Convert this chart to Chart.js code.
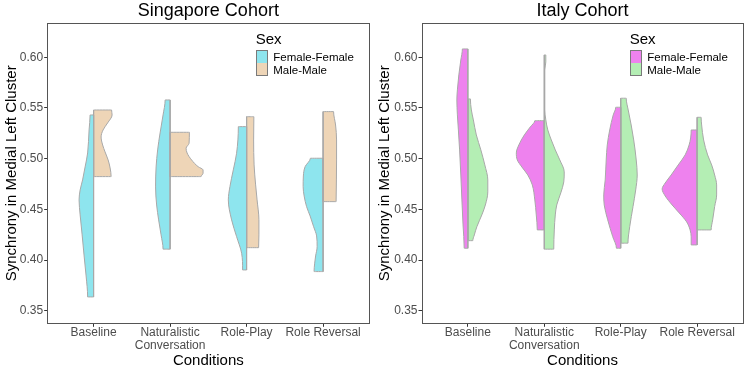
<!DOCTYPE html>
<html>
<head>
<meta charset="utf-8">
<script src="https://cdn.jsdelivr.net/npm/chart.js@4.4.1/dist/chart.umd.min.js"></script>
<style>
html,body{margin:0;padding:0;background:#fff;}
#wrap{position:relative;width:746px;height:374px;overflow:hidden;}
.panel{position:absolute;top:0;width:373px;height:374px;}
.panel canvas{position:absolute;left:0;top:0;}
.legend{position:absolute;top:0;font-family:"Liberation Sans",Arial,sans-serif;color:#000;}
.legend .ttl{position:absolute;left:0;top:31px;font-size:15px;line-height:16px;white-space:nowrap;}
.legend .key{position:absolute;left:0;top:50px;width:12px;height:26px;border:1px solid #7a7a7a;box-sizing:border-box;}
.legend .sw{height:50%;}
.legend .lab{position:absolute;left:17.6px;font-size:11.5px;line-height:13px;white-space:nowrap;}
</style>
</head>
<body>
<div id="wrap">
  <div class="panel" style="left:0"><canvas id="sg" width="373" height="374"></canvas><div class="legend" id="lg-sg" style="left:255.7px"></div></div>
  <div class="panel" style="left:373px"><canvas id="it" width="373" height="374"></canvas><div class="legend" id="lg-it" style="left:256.7px"></div></div>
</div>
<script>
// ---- data (value on y axis, half-width of density in category units) ----
const CONDITIONS = ['Baseline', 'Naturalistic Conversation', 'Role-Play', 'Role Reversal'];
const GROUPS = ['Female-Female', 'Male-Male'];
const Y_TICKS = [0.35, 0.40, 0.45, 0.50, 0.55, 0.60];

const SG_BASE_FF = [[0.5431,0.046],[0.5283,0.059],[0.5056,0.078],[0.4918,0.111],[0.4790,0.144],[0.4691,0.176],[0.4593,0.190],[0.4445,0.176],[0.4248,0.150],[0.4040,0.124],[0.3843,0.098],[0.3636,0.078]];
const SG_BASE_MM = [[0.5480,0.235],[0.5431,0.242],[0.5352,0.183],[0.5283,0.124],[0.5214,0.098],[0.5135,0.118],[0.5066,0.150],[0.4987,0.190],[0.4908,0.216],[0.4823,0.229]];
const SG_NAT_FF  = [[0.5579,0.065],[0.5431,0.092],[0.5253,0.131],[0.5086,0.163],[0.4918,0.183],[0.4721,0.190],[0.4543,0.176],[0.4396,0.150],[0.4248,0.118],[0.4107,0.092]];
const SG_NAT_MM  = [[0.5260,0.252],[0.5152,0.248],[0.5103,0.209],[0.5056,0.222],[0.4987,0.281],[0.4921,0.366],[0.4889,0.431],[0.4856,0.431],[0.4823,0.405]];
const SG_RP_FF   = [[0.5316,0.108],[0.5053,0.131],[0.4889,0.174],[0.4724,0.218],[0.4593,0.239],[0.4396,0.196],[0.4231,0.131],[0.4067,0.065],[0.3902,0.052]];
const SG_RP_MM   = [[0.5414,0.095],[0.5184,0.092],[0.4938,0.098],[0.4741,0.118],[0.4593,0.137],[0.4396,0.161],[0.4248,0.161],[0.4122,0.157]];
const SG_RR_FF   = [[0.5004,0.166],[0.4921,0.235],[0.4829,0.258],[0.4724,0.261],[0.4632,0.248],[0.4527,0.216],[0.4435,0.170],[0.4329,0.124],[0.4238,0.085],[0.4132,0.078],[0.4040,0.098],[0.3962,0.111],[0.3886,0.118]];
const SG_RR_MM   = [[0.5464,0.137],[0.5332,0.163],[0.5184,0.176],[0.4987,0.176],[0.4790,0.174],[0.4576,0.170]];

const IT_BASE_FF = [[0.6082,0.072],[0.5973,0.092],[0.5826,0.118],[0.5678,0.137],[0.5579,0.144],[0.5431,0.137],[0.5283,0.124],[0.5086,0.108],[0.4839,0.092],[0.4593,0.078],[0.4346,0.063],[0.4116,0.048]];
const IT_BASE_MM = [[0.5589,0.033],[0.5480,0.046],[0.5382,0.072],[0.5234,0.111],[0.5086,0.170],[0.4938,0.222],[0.4790,0.261],[0.4672,0.261],[0.4543,0.229],[0.4445,0.183],[0.4329,0.118],[0.4248,0.085],[0.4191,0.065]];
const IT_NAT_FF  = [[0.5375,0.124],[0.5313,0.183],[0.5234,0.261],[0.5135,0.333],[0.5056,0.366],[0.4987,0.353],[0.4918,0.294],[0.4839,0.216],[0.4741,0.157],[0.4593,0.124],[0.4445,0.105],[0.4297,0.092]];
const IT_NAT_MM  = [[0.6023,0.020],[0.5954,0.020],[0.5875,0.007],[0.5480,0.007],[0.5382,0.020],[0.5283,0.046],[0.5184,0.092],[0.5086,0.144],[0.4987,0.203],[0.4869,0.261],[0.4770,0.255],[0.4662,0.216],[0.4543,0.163],[0.4445,0.144],[0.4297,0.131],[0.4107,0.124]];
const IT_RP_FF   = [[0.5507,0.065],[0.5431,0.098],[0.5283,0.144],[0.5135,0.176],[0.4987,0.190],[0.4790,0.203],[0.4642,0.222],[0.4543,0.216],[0.4396,0.170],[0.4231,0.105],[0.4116,0.056]];
const IT_RP_MM   = [[0.5596,0.072],[0.5480,0.098],[0.5332,0.137],[0.5184,0.170],[0.4987,0.203],[0.4839,0.216],[0.4691,0.196],[0.4527,0.161],[0.4329,0.118],[0.4166,0.095]];
const IT_RR_FF   = [[0.5283,0.078],[0.5204,0.085],[0.5135,0.105],[0.5037,0.157],[0.4938,0.248],[0.4839,0.340],[0.4760,0.418],[0.4701,0.458],[0.4632,0.418],[0.4543,0.327],[0.4465,0.235],[0.4376,0.137],[0.4297,0.092],[0.4228,0.078],[0.4149,0.078]];
const IT_RR_MM   = [[0.5408,0.052],[0.5332,0.059],[0.5184,0.085],[0.5037,0.137],[0.4938,0.190],[0.4839,0.229],[0.4741,0.255],[0.4642,0.255],[0.4527,0.229],[0.4396,0.203],[0.4297,0.183]];

// ---- styles ----
const SG_COLORS = ['#8EE5EE', '#EED5B7'];
const IT_COLORS = ['#EE82EE', '#B4EEB4'];
const OUTLINE = '#A8A8A8';
const BORDER = '#555555';
const FAMILY = '"Liberation Sans", Arial, sans-serif';
Chart.defaults.font.family = FAMILY;

function halfDataset(pairs, center, side, color) {
  const pts = [{x: center, y: pairs[0][0]}];
  pairs.forEach(([v, w]) => pts.push({x: center + side * w, y: v}));
  pts.push({x: center, y: pairs[pairs.length - 1][0]});
  return {data: pts, fill: {value: center}, backgroundColor: color, borderColor: OUTLINE,
          borderWidth: 1, pointRadius: 0, cubicInterpolationMode: 'monotone'};
}
function centerDataset(pairs, center) {
  return {data: [{x: center, y: pairs[0][0]}, {x: center, y: pairs[pairs.length - 1][0]}],
          fill: false, borderColor: OUTLINE, borderWidth: 1, pointRadius: 0};
}
function buildDatasets(groups, colors) {
  const ds = [];
  groups.forEach((pair, i) => {
    ds.push(halfDataset(pair[0], i + 1, -1, colors[0]));
    ds.push(halfDataset(pair[1], i + 1, +1, colors[1]));
  });
  groups.forEach((pair, i) => {
    ds.unshift(centerDataset(pair[0], i + 1));
    ds.unshift(centerDataset(pair[1], i + 1));
  });
  return ds;
}
function catLabel(v) {
  const name = CONDITIONS[Math.round(v) - 1] || '';
  return name === 'Naturalistic Conversation' ? ['Naturalistic', 'Conversation'] : name;
}

function makePanel(id, title, groups, colors, leftW, rightW) {
  const tickGrid = {display: true, drawOnChartArea: false, drawTicks: true, tickLength: 3.5, color: '#333333', lineWidth: 1};
  new Chart(document.getElementById(id), {
    type: 'line',
    data: {datasets: buildDatasets(groups, colors)},
    options: {
      indexAxis: 'y',
      responsive: false, animation: false, devicePixelRatio: 1,
      layout: {padding: 0},
      plugins: {legend: {display: false}, tooltip: {enabled: false}, title: {display: false}},
      scales: {
        x: {
          type: 'linear', position: 'bottom', min: 0.4, max: 4.6,
          afterBuildTicks: s => { s.ticks = CONDITIONS.map((_, i) => ({value: i + 1})); },
          afterFit: s => { s.height = 50.7; },
          ticks: {autoSkip: false, maxRotation: 0, minRotation: 0, padding: 0, color: '#4D4D4D',
                  font: {size: 12, lineHeight: 1.06}, callback: v => catLabel(v)},
          grid: tickGrid,
          border: {display: true, color: BORDER, width: 1},
          title: {display: true, text: 'Conditions', color: '#000', font: {size: 15}, padding: {top: 0, bottom: 4}}
        },
        y: {
          type: 'linear', position: 'left', min: 0.3376, max: 0.6335,
          afterBuildTicks: s => { s.ticks = Y_TICKS.map(v => ({value: v})); },
          afterFit: s => { s.width = leftW; },
          ticks: {padding: 1, color: '#4D4D4D', font: {size: 12}, callback: v => v.toFixed(2)},
          grid: tickGrid,
          border: {display: true, color: BORDER, width: 1},
          title: {display: true, text: 'Synchrony in Medial Left Cluster', color: '#000', font: {size: 15}, padding: {top: 3, bottom: 0}}
        },
        x2: {
          type: 'linear', position: 'top', min: 0.4, max: 4.6,
          afterFit: s => { s.height = 23.3; },
          ticks: {display: false},
          grid: {display: false, drawTicks: false},
          border: {display: true, color: BORDER, width: 1},
          title: {display: true, text: title, color: '#000', font: {size: 18}, padding: {top: 0, bottom: 0}}
        },
        y2: {
          type: 'linear', position: 'right', min: 0.3376, max: 0.6335,
          afterFit: s => { s.width = rightW; },
          ticks: {display: false},
          grid: {display: false, drawTicks: false},
          border: {display: true, color: BORDER, width: 1}
        }
      }
    }
  });
}

function makeLegend(id, colors) {
  const el = document.getElementById(id);
  let html = '<div class="ttl">Sex</div><div class="key">';
  colors.forEach(c => { html += '<div class="sw" style="background:' + c + '"></div>'; });
  html += '</div>';
  GROUPS.forEach((g, i) => { html += '<div class="lab" style="top:' + (50.5 + i * 13.3) + 'px">' + g + '</div>'; });
  el.innerHTML = html;
}

makePanel('sg', 'Singapore Cohort',
  [[SG_BASE_FF, SG_BASE_MM], [SG_NAT_FF, SG_NAT_MM], [SG_RP_FF, SG_RP_MM], [SG_RR_FF, SG_RR_MM]],
  SG_COLORS, 47.7, 4);
makePanel('it', 'Italy Cohort',
  [[IT_BASE_FF, IT_BASE_MM], [IT_NAT_FF, IT_NAT_MM], [IT_RP_FF, IT_RP_MM], [IT_RR_FF, IT_RR_MM]],
  IT_COLORS, 49, 3);
makeLegend('lg-sg', SG_COLORS);
makeLegend('lg-it', IT_COLORS);
</script>
</body>
</html>
